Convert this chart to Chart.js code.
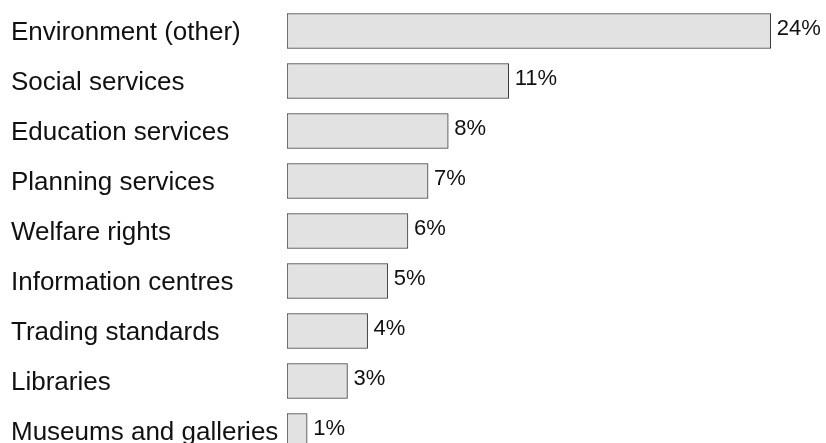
<!DOCTYPE html>
<html lang="en">
<head>
  <meta charset="UTF-8" />
  <title>Enquiries by service</title>
  <script src="https://cdn.jsdelivr.net/npm/chart.js"></script>
  <style>
    html, body { margin: 0; padding: 0; background: #fff; overflow: hidden; }
    .wrap { position: relative; width: 826px; height: 460px; }
  </style>
</head>
<body>
<div class="wrap">
  <canvas id="serviceChart"></canvas>
</div>

<script>
  const services = [
    'Environment (other)',
    'Social services',
    'Education services',
    'Planning services',
    'Welfare rights',
    'Information centres',
    'Trading standards',
    'Libraries',
    'Museums and galleries'
  ];
  const shares = [24, 11, 8, 7, 6, 5, 4, 3, 1];

  const FONT = '"Liberation Sans", Arial, sans-serif';

  // service names on the left and percentages after each bar
  const barText = {
    id: 'barText',
    afterDatasetsDraw(chart) {
      const ctx = chart.ctx;
      const meta = chart.getDatasetMeta(0);
      ctx.save();
      ctx.fillStyle = '#111';
      ctx.textAlign = 'left';
      ctx.textBaseline = 'middle';
      meta.data.forEach((bar, i) => {
        ctx.font = '26px ' + FONT;
        ctx.fillText(services[i], 11, bar.y + 2);
        ctx.font = '22px ' + FONT;
        ctx.fillText(shares[i] + '%', bar.x + 6, bar.y - 2);
      });
      ctx.restore();
    }
  };

  new Chart(document.getElementById('serviceChart').getContext('2d'), {
    type: 'bar',
    data: {
      labels: services,
      datasets: [{
        data: shares,
        backgroundColor: '#e2e2e2',
        borderColor: '#3a3a3a',
        borderWidth: 1,
        borderSkipped: false,
        barThickness: 35
      }]
    },
    options: {
      indexAxis: 'y',
      responsive: true,
      maintainAspectRatio: false,
      animation: false,
      layout: { padding: { top: 6, bottom: 4, left: 287, right: 15 } },
      plugins: {
        legend: { display: false },
        tooltip: { enabled: false }
      },
      scales: {
        x: { display: false, min: 0, max: 26 },
        y: { display: false }
      }
    },
    plugins: [barText]
  });
</script>
</body>
</html>
